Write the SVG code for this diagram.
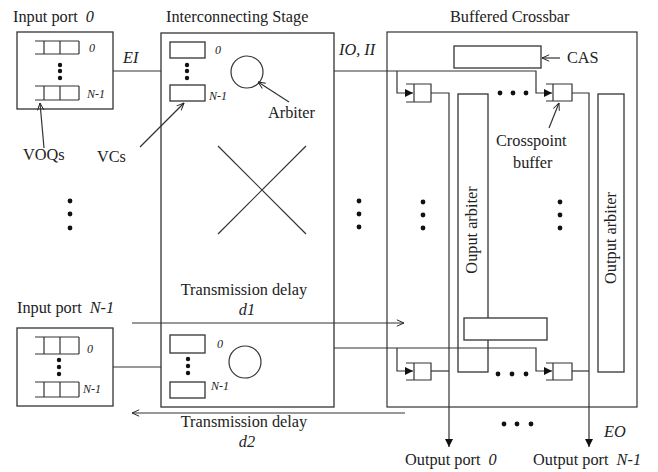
<svg xmlns="http://www.w3.org/2000/svg" width="658" height="472" viewBox="0 0 658 472">
<defs>
<marker id="open" viewBox="0 0 10 10" refX="10" refY="5" markerWidth="8" markerHeight="8" markerUnits="userSpaceOnUse" orient="auto">
<path d="M1,1 L10,5 L1,9" fill="none" stroke="#222" stroke-width="1.2"/>
</marker>
<marker id="fill" viewBox="0 0 10 10" refX="10" refY="5" markerWidth="10" markerHeight="8" markerUnits="userSpaceOnUse" orient="auto">
<path d="M0,0 L10,5 L0,10 Z" fill="#111"/>
</marker>
</defs>
<style>
.b{fill:#fff;stroke:#333;stroke-width:1.3}
.l{fill:none;stroke:#333;stroke-width:1.2}
.t{font-family:"Liberation Serif","Times New Roman",serif;font-size:16.3px;fill:#222}
.i{font-family:"Liberation Serif","Times New Roman",serif;font-style:italic;font-size:16.3px;fill:#222}
.s{font-family:"Liberation Serif","Times New Roman",serif;font-style:italic;font-size:12px;fill:#222}
.d{fill:#111}
</style>
<rect width="658" height="472" fill="#fff"/>

<g id="input-port-0">
<text class="t" x="13" y="22">Input port <tspan class="i" dx="4">0</tspan></text>
<rect class="b" x="17" y="32" width="96" height="77"/>
<path class="l" d="M35,41 H79 M35,54 H79 M44,41 V54 M60,41 V54 M79,41 V54"/>
<path class="l" d="M35,86 H79 M35,100 H79 M44,86 V100 M60,86 V100 M79,86 V100"/>
<circle class="d" cx="60" cy="65" r="2.2"/><circle class="d" cx="60" cy="71" r="2.2"/><circle class="d" cx="60" cy="78" r="2.2"/>
<text class="s" x="89" y="52">0</text>
<text class="s" x="87" y="98">N-1</text>
</g>

<g id="input-port-n1">
<text class="t" x="17" y="313">Input port <tspan class="i" dx="4">N-1</tspan></text>
<rect class="b" x="17" y="328" width="96" height="78"/>
<path class="l" d="M35,337 H79 M35,354 H79 M44,337 V354 M60,337 V354 M79,337 V354"/>
<path class="l" d="M35,382 H79 M35,397 H79 M44,382 V397 M60,382 V397 M79,382 V397"/>
<circle class="d" cx="59" cy="360" r="2.2"/><circle class="d" cx="59" cy="367" r="2.2"/><circle class="d" cx="59" cy="374" r="2.2"/>
<text class="s" x="87" y="353">0</text>
<text class="s" x="83" y="393">N-1</text>
</g>

<g id="labels-left">
<text class="t" x="23" y="160">VOQs</text>
<text class="t" x="97" y="162">VCs</text>
<text class="i" x="123" y="63">EI</text>
<circle class="d" cx="70" cy="201" r="2.4"/><circle class="d" cx="70" cy="214" r="2.4"/><circle class="d" cx="70" cy="228" r="2.4"/>
</g>

<g id="interconnecting-stage">
<text class="t" x="166" y="22">Interconnecting Stage</text>
<rect class="b" x="161" y="33" width="173" height="374"/>
<rect class="b" x="170" y="42" width="35" height="16"/>
<rect class="b" x="170" y="85" width="35" height="16"/>
<circle class="d" cx="187" cy="65" r="2.2"/><circle class="d" cx="187" cy="71" r="2.2"/><circle class="d" cx="187" cy="78" r="2.2"/>
<text class="s" x="215" y="54">0</text>
<text class="s" x="209" y="100">N-1</text>
<circle class="l" cx="247" cy="72" r="16"/>
<text class="t" x="268" y="118">Arbiter</text>
<line class="l" x1="218" y1="146" x2="306" y2="234"/>
<line class="l" x1="218" y1="234" x2="306" y2="146"/>
<text class="t" x="244" y="295" text-anchor="middle">Transmission delay</text>
<text class="i" x="247" y="315" text-anchor="middle">d1</text>
<rect class="b" x="170" y="335" width="35" height="18"/>
<rect class="b" x="170" y="382" width="35" height="16"/>
<circle class="d" cx="188" cy="359" r="2.2"/><circle class="d" cx="188" cy="366" r="2.2"/><circle class="d" cx="188" cy="373" r="2.2"/>
<text class="s" x="217" y="348">0</text>
<text class="s" x="211" y="390">N-1</text>
<circle class="l" cx="245" cy="362" r="16"/>
</g>

<g id="labels-middle">
<text class="i" x="339" y="55">IO, II</text>
<circle class="d" cx="359" cy="201" r="2.4"/><circle class="d" cx="359" cy="214" r="2.4"/><circle class="d" cx="359" cy="227" r="2.4"/>
<text class="t" x="244" y="427" text-anchor="middle">Transmission delay</text>
<text class="i" x="247" y="447" text-anchor="middle">d2</text>
</g>

<g id="buffered-crossbar">
<text class="t" x="450" y="22">Buffered Crossbar</text>
<rect class="l" x="387" y="32" width="250" height="375"/>
<rect class="b" x="454" y="46" width="87" height="22"/>
<text class="t" x="567" y="63">CAS</text>
<rect class="b" x="458" y="94" width="30" height="278"/>
<text class="t" transform="translate(477,230) rotate(-90)" text-anchor="middle">Ouput arbiter</text>
<rect class="b" x="598" y="94" width="26" height="278"/>
<text class="t" transform="translate(616,238) rotate(-90)" text-anchor="middle">Output arbiter</text>
<rect class="b" x="464" y="318" width="83" height="22"/>
<circle class="d" cx="423" cy="202" r="2.4"/><circle class="d" cx="423" cy="215" r="2.4"/><circle class="d" cx="423" cy="228" r="2.4"/>
<circle class="d" cx="560" cy="202" r="2.4"/><circle class="d" cx="560" cy="215" r="2.4"/><circle class="d" cx="560" cy="228" r="2.4"/>
<circle class="d" cx="500" cy="93" r="2.4"/><circle class="d" cx="513" cy="93" r="2.4"/><circle class="d" cx="526" cy="93" r="2.4"/>
<circle class="d" cx="498" cy="374" r="2.4"/><circle class="d" cx="512" cy="374" r="2.4"/><circle class="d" cx="526" cy="374" r="2.4"/>
<text class="t" x="496" y="146">Crosspoint</text>
<text class="t" x="513" y="168">buffer</text>
</g>

<g id="xpb-0-0"><path class="l" d="M406,84 H431 V102 H406 M414,84 V102"/></g>
<g id="xpb-0-n1"><path class="l" d="M546,84 H572 V101 H546 M553,84 V101"/></g>
<g id="xpb-n1-0"><path class="l" d="M406,363 H431 V380 H406 M414,363 V380"/></g>
<g id="xpb-n1-n1"><path class="l" d="M546,363 H572 V380 H546 M553,363 V380"/></g>

<g id="outputs">
<circle class="d" cx="504" cy="424" r="2.4"/><circle class="d" cx="517" cy="424" r="2.4"/><circle class="d" cx="531" cy="424" r="2.4"/>
<text class="i" x="604" y="437">EO</text>
<text class="t" x="405" y="465">Output port <tspan class="i" dx="4">0</tspan></text>
<text class="t" x="533" y="465">Output port <tspan class="i" dx="4">N-1</tspan></text>
</g>

<g id="connectors">
<line class="l" x1="113" y1="71" x2="161" y2="71"/>
<line class="l" x1="113" y1="367" x2="161" y2="367"/>
<polyline class="l" points="334,71 536,71 536,93 552,93" marker-end="url(#fill)"/>
<polyline class="l" points="397,71 397,93 413,93" marker-end="url(#fill)"/>
<polyline class="l" points="334,348 536,348 536,371 552,371" marker-end="url(#fill)"/>
<polyline class="l" points="397,348 397,371 413,371" marker-end="url(#fill)"/>
<polyline class="l" points="431,93 449,93 449,447" marker-end="url(#fill)"/>
<polyline class="l" points="572,93 589,93 589,447" marker-end="url(#fill)"/>
<line class="l" x1="431" y1="371" x2="449" y2="371"/>
<line class="l" x1="572" y1="371" x2="589" y2="371"/>
<line class="l" x1="132" y1="323" x2="404" y2="323" marker-end="url(#open)"/>
<line class="l" x1="405" y1="413" x2="132" y2="413" marker-end="url(#open)"/>
<line class="l" x1="560" y1="58" x2="542" y2="58" marker-end="url(#open)"/>
<line class="l" x1="289" y1="102" x2="258" y2="82" marker-end="url(#open)"/>
<line class="l" x1="44" y1="148" x2="40" y2="103" marker-end="url(#open)"/>
<line class="l" x1="140" y1="147" x2="184" y2="103" marker-end="url(#open)"/>
<line class="l" x1="549" y1="128" x2="559" y2="103" marker-end="url(#open)"/>
</g>
</svg>
